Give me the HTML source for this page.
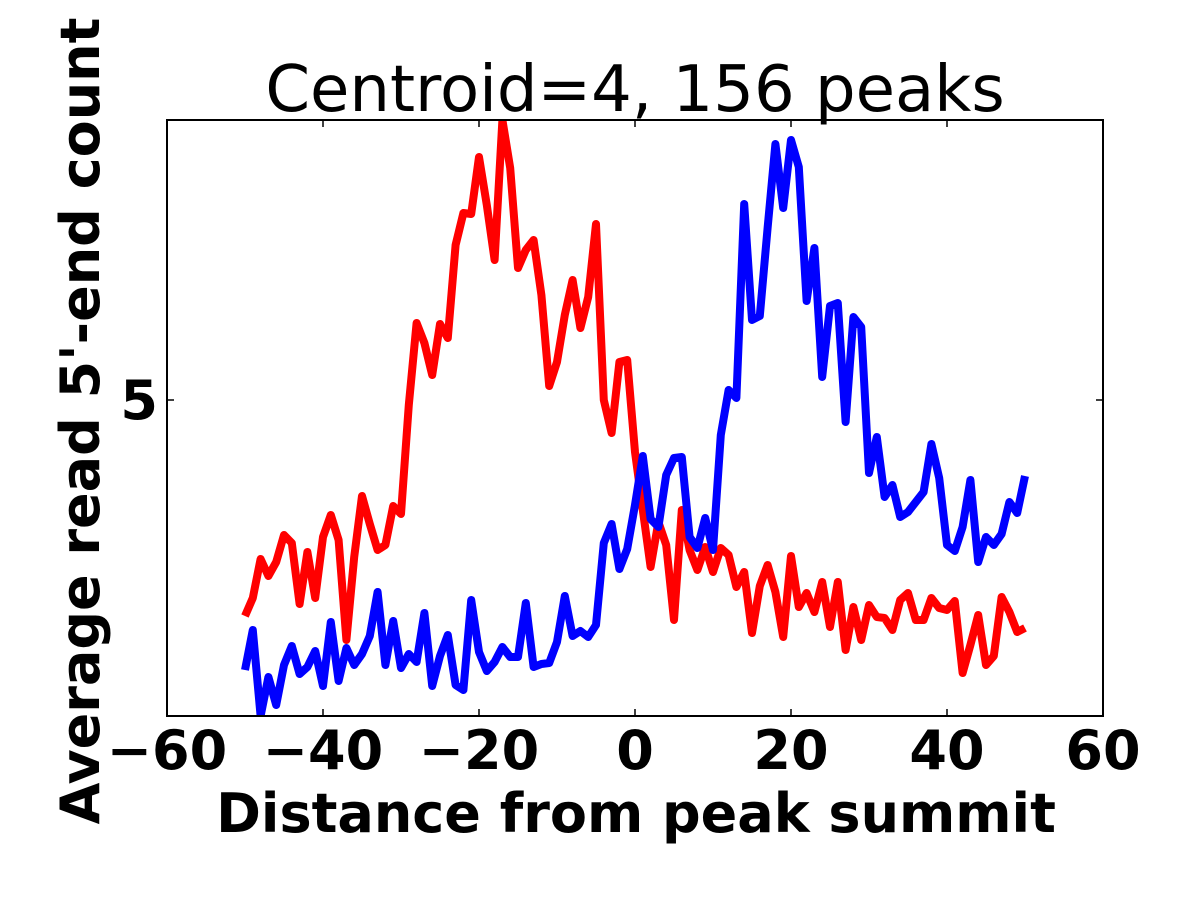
<!DOCTYPE html>
<html><head><meta charset="utf-8"><style>
html,body{margin:0;padding:0;background:#fff;}
svg{display:block;}
text{font-family:"DejaVu Sans","Liberation Sans",sans-serif;}
</style></head><body>
<svg id="chart" width="1200" height="900" viewBox="0 0 1200 900">
<defs><clipPath id="clip"><rect x="167" y="120" width="936" height="596"/></clipPath></defs>
<rect x="0" y="0" width="1200" height="900" fill="#fff"/>
<text x="635" y="111" font-size="64" text-anchor="middle">Centroid=4, 156 peaks</text>
<g id="series" clip-path="url(#clip)"></g>
<g id="ticks"></g>
<rect x="167" y="120" width="936" height="596" fill="none" stroke="#000" stroke-width="2"/>
<text x="636" y="832" font-size="54" font-weight="bold" text-anchor="middle">Distance from peak summit</text>
<text transform="translate(99,421) rotate(-90)" font-size="54" font-weight="bold" text-anchor="middle">Average read 5'-end count</text>
</svg>
<script>
const xValues = [];
for (let i = -50; i <= 50; i++) xValues.push(i);
const redPx = [616,598,559,576,562,535,543,604,552,598,537,515,540,640,557,496,524,550,545,506,514,405,323,343,375,324,338,245,213,214,157,205,260,120,168,268,250,240,295,386,362,315,280,328,297,224,400,433,362,360,452,510,567,522,545,620,510,550,570,547,572,548,555,587,572,633,586,565,592,637,556,607,593,612,582,627,582,650,607,640,605,617,618,630,600,593,620,620,598,608,610,601,673,645,615,665,656,597,612,632,628];
const bluePx = [670,630,716,677,705,665,646,674,667,651,686,622,681,648,665,654,636,592,665,621,668,654,662,613,686,656,635,685,690,600,652,671,662,647,657,657,603,667,664,663,642,596,636,631,637,625,543,524,569,549,505,456,519,527,475,458,457,537,548,518,550,435,390,398,204,320,316,228,144,208,140,167,301,248,377,306,303,422,317,327,473,437,497,485,517,512,502,492,444,478,545,551,527,480,562,537,545,534,502,513,476];
// series values in data units
const redValues = redPx.map(p => +(5 + (400 - p) / 100).toFixed(2));
const blueValues = bluePx.map(p => +(5 + (400 - p) / 100).toFixed(2));
const xTicks = [-60,-40,-20,0,20,40,60];
const xTickLabels = ["\u221260","\u221240","\u221220","0","20","40","60"];
const yTicks = [5];
const yTickLabels = ["5"];

const X0=167,X1=1103,Y0=716,Y1=120;
const xMin=-60,xMax=60,yMin=1.84,yMax=7.80;
function sx(v){return X0+(v-xMin)/(xMax-xMin)*(X1-X0);}
function sy(v){return Y0-(v-yMin)/(yMax-yMin)*(Y0-Y1);}
const NS="http://www.w3.org/2000/svg";
const sg=document.getElementById('series');
function line(vals,color,name){
  const p=document.createElementNS(NS,'polyline');
  p.setAttribute('points',vals.map((v,i)=>sx(xValues[i]).toFixed(1)+','+sy(v).toFixed(1)).join(' '));
  p.setAttribute('fill','none');p.setAttribute('stroke',color);
  p.setAttribute('stroke-width','8');p.setAttribute('stroke-linejoin','round');
  
  
  sg.appendChild(p);
}
line(redValues,'#ff0000','red-series-line');
line(blueValues,'#0000ff','blue-series-line');
const tg=document.getElementById('ticks');
xTicks.forEach((t,i)=>{
  const x=sx(t);
  [[Y0,Y0-7],[Y1,Y1+7]].forEach(([a,b])=>{
    const l=document.createElementNS(NS,'line');
    l.setAttribute('x1',x);l.setAttribute('x2',x);l.setAttribute('y1',a);l.setAttribute('y2',b);
    l.setAttribute('stroke','#000');l.setAttribute('stroke-width','1.5');
    
    
    tg.appendChild(l);
  });
  const tx=document.createElementNS(NS,'text');
  tx.setAttribute('x',x);tx.setAttribute('y',769);tx.setAttribute('text-anchor','middle');
  tx.setAttribute('font-size','54');tx.setAttribute('font-weight','bold');
  tx.textContent=xTickLabels[i];
  
  
  tg.appendChild(tx);
});
yTicks.forEach((t,i)=>{
  const y=sy(t);
  [[X0,X0+7],[X1,X1-7]].forEach(([a,b])=>{
    const l=document.createElementNS(NS,'line');
    l.setAttribute('x1',a);l.setAttribute('x2',b);l.setAttribute('y1',y);l.setAttribute('y2',y);
    l.setAttribute('stroke','#000');l.setAttribute('stroke-width','1.5');
    
    
    tg.appendChild(l);
  });
  const tx=document.createElementNS(NS,'text');
  tx.setAttribute('x',158);tx.setAttribute('y',y+19);tx.setAttribute('text-anchor','end');
  tx.setAttribute('font-size','54');tx.setAttribute('font-weight','bold');
  tx.textContent=yTickLabels[i];
  
  
  tg.appendChild(tx);
});
</script>
</body></html>
